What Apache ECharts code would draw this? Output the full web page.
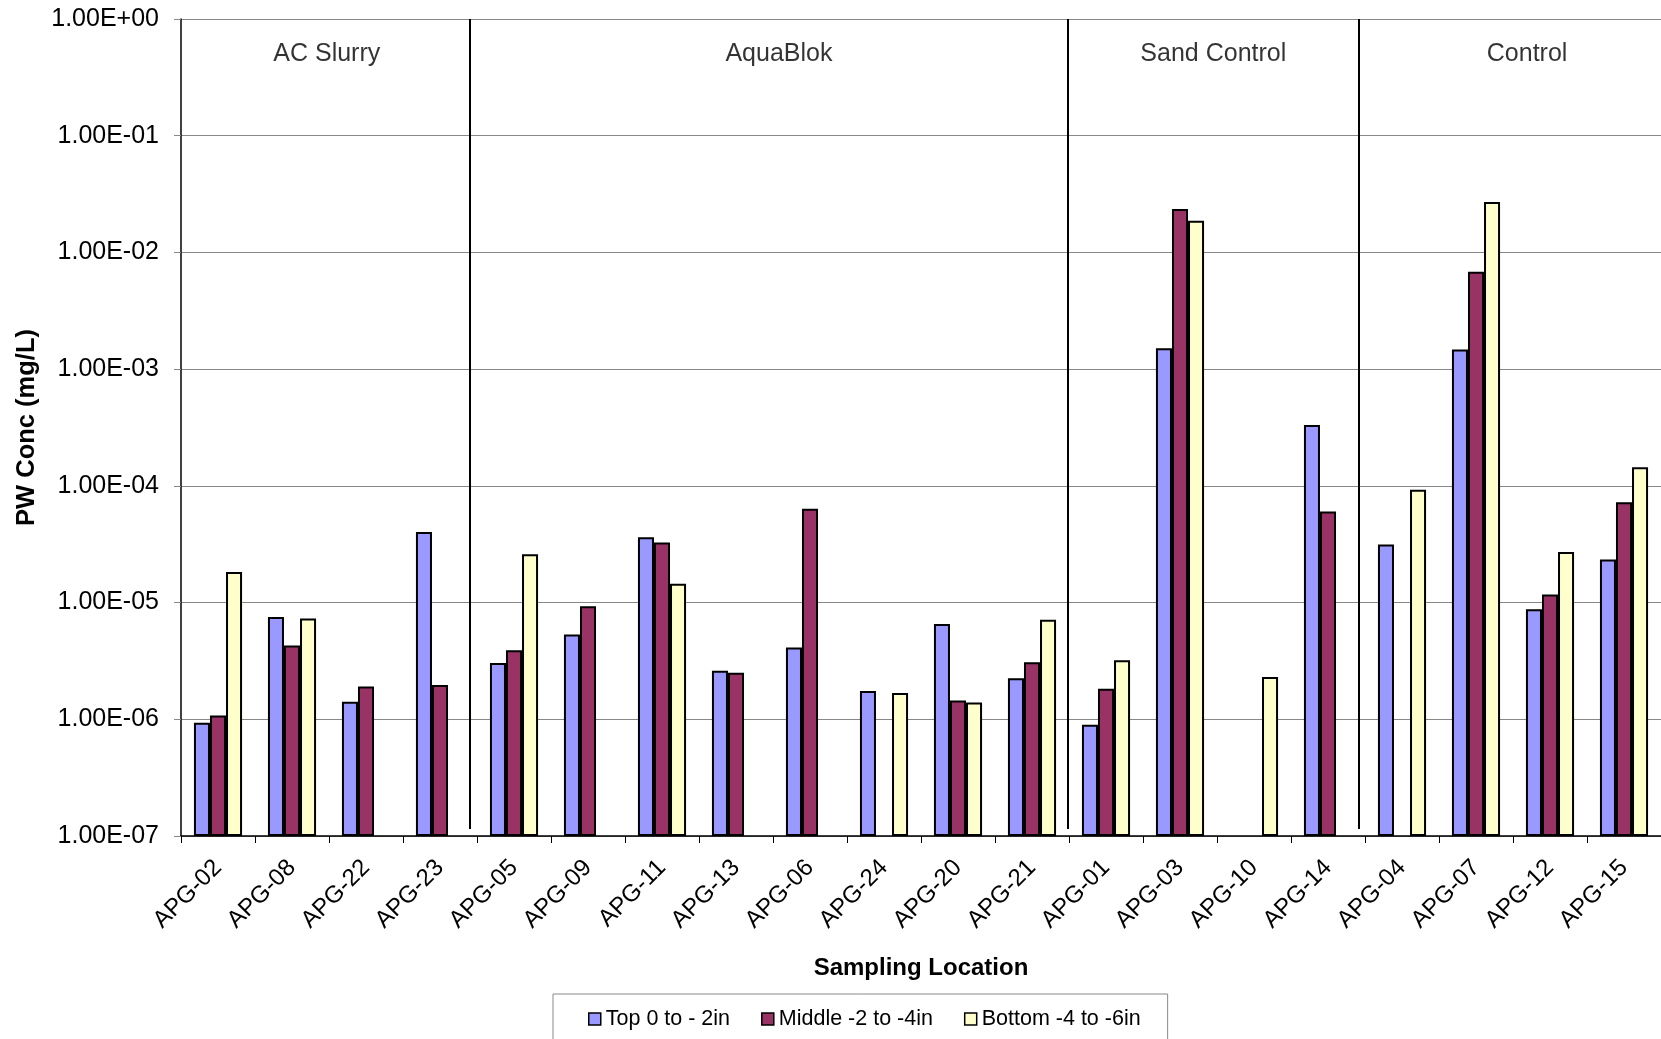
<!DOCTYPE html>
<html>
<head>
<meta charset="utf-8">
<script src="https://cdn.jsdelivr.net/npm/echarts@6/dist/echarts.min.js"></script>
<style>
html,body{margin:0;padding:0;background:#fff;}
#chart{width:1661px;height:1039px;}
</style>
</head>
<body>
<div id="chart"></div>
<script>
// ---- data ----
const categories = ['APG-02','APG-08','APG-22','APG-23','APG-05','APG-09','APG-11','APG-13','APG-06','APG-24','APG-20','APG-21','APG-01','APG-03','APG-10','APG-14','APG-04','APG-07','APG-12','APG-15'];
const seriesNames = ['Top 0 to - 2in','Middle -2 to -4in','Bottom -4 to -6in'];
const topValues = [9.35e-7, 7.53e-6, 1.41e-6, 4.03e-5, 3.04e-6, 5.32e-6, 3.63e-5, 2.61e-6, 4.13e-6, 1.75e-6, 6.54e-6, 2.25e-6, 8.97e-7, 1.51e-3, null, 3.33e-4, 3.14e-5, 1.47e-3, 8.77e-6, 2.34e-5];
const middleValues = [1.08e-6, 4.28e-6, 1.91e-6, 1.97e-6, 3.90e-6, 9.30e-6, 3.27e-5, 2.50e-6, 6.38e-5, null, 1.45e-6, 3.08e-6, 1.83e-6, 2.36e-2, null, 6.03e-5, null, 6.84e-3, 1.17e-5, 7.24e-5];
const bottomValues = [1.83e-5, 7.30e-6, null, null, 2.60e-5, null, 1.45e-5, null, null, 1.68e-6, 1.39e-6, 7.11e-6, 3.21e-6, 1.87e-2, 2.30e-6, null, 9.24e-5, 2.70e-2, 2.71e-5, 1.44e-4];
const groupNames = ['AC Slurry','AquaBlok','Sand Control','Control'];
const groupLabelX = [1.97, 8.08, 13.95, 18.19];   // in category units
const separatorX = [3.90, 11.98, 15.91];          // in category units
const yMin = 1e-7, yMax = 1;

const colors = ['#9999FF','#993366','#FFFFCC'];
const FONT = "'Liberation Sans', Arial, sans-serif";

function fmtExp(v){
  const e = Math.round(Math.log10(v));
  return '1.00E' + (e < 0 ? '-' : '+') + String(Math.abs(e)).padStart(2,'0');
}

const chart = echarts.init(document.getElementById('chart'), null, {renderer:'canvas'});

const barSeries = [topValues, middleValues, bottomValues].map((arr, i) => ({
  name: seriesNames[i],
  type: 'bar',
  xAxisIndex: 0,
  yAxisIndex: 0,
  barGap: '0%',
  barCategoryGap: '35%',
  data: arr.map(v => v == null ? '-' : v),
  itemStyle: {color: colors[i], borderColor: '#000', borderWidth: 2},
  emphasis: {disabled: true},
  animation: false
}));

const option = {
  animation: false,
  textStyle: {fontFamily: FONT},
  grid: {left: 181, right: 0, top: 19, bottom: 203, containLabel: false},
  legend: {
    data: seriesNames,
    left: 553, top: 994,
    orient: 'horizontal',
    itemWidth: 12, itemHeight: 12, itemGap: 31,
    icon: 'rect',
    borderColor: '#888', borderWidth: 1,
    padding: [14, 27, 22, 35],
    itemStyle: {borderColor: '#000', borderWidth: 1.5},
    textStyle: {fontSize: 21.5, color: '#000', fontFamily: FONT}
  },
  xAxis: [{
    type: 'category',
    data: categories,
    name: 'Sampling Location',
    nameLocation: 'middle',
    nameGap: 120,
    nameTextStyle: {fontSize: 24, fontWeight: 'bold', color: '#000', fontFamily: FONT},
    axisLine: {lineStyle: {color: '#000', width: 1.5}},
    axisTick: {show: true, inside: false, length: 7, lineStyle: {color: '#000'}},
    axisLabel: {rotate: 45, fontSize: 24, color: '#000', margin: 28, interval: 0, fontFamily: FONT},
    splitLine: {show: false}
  }, {
    type: 'value',
    min: 0, max: 20,
    show: false,
    position: 'bottom'
  }],
  yAxis: [{
    type: 'log',
    logBase: 10,
    min: yMin, max: yMax,
    interval: 1,
    name: 'PW Conc (mg/L)',
    nameLocation: 'middle',
    nameGap: 140,
    nameRotate: 90,
    nameTextStyle: {fontSize: 25.5, fontWeight: 'bold', color: '#000', fontFamily: FONT},
    axisLine: {show: true, lineStyle: {color: '#000', width: 1.5}},
    axisTick: {show: true, inside: false, length: 7, lineStyle: {color: '#888'}},
    axisLabel: {formatter: fmtExp, fontSize: 25, color: '#000', margin: 22, fontFamily: FONT},
    splitLine: {show: true, lineStyle: {color: '#888', width: 1}},
    startValue: yMin
  }],
  series: barSeries.concat([
    {
      name: 'separators',
      type: 'scatter',
      xAxisIndex: 1, yAxisIndex: 0,
      data: [],
      silent: true,
      markLine: {
        silent: true,
        symbol: ['none','none'],
        label: {show: false},
        lineStyle: {color: '#000', width: 2, type: 'solid'},
        data: separatorX.map(x => [{coord: [x, yMax]}, {coord: [x, 1.15e-7]}])
      }
    },
    {
      name: 'groups',
      type: 'scatter',
      xAxisIndex: 1, yAxisIndex: 0,
      symbolSize: 0,
      silent: true,
      data: groupNames.map((n, i) => ({value: [groupLabelX[i], 0.50], name: n})),
      label: {
        show: true,
        position: 'inside',
        formatter: p => p.name,
        fontSize: 25, color: '#000', fontFamily: FONT
      }
    }
  ])
};
chart.setOption(option);
</script>
</body>
</html>
